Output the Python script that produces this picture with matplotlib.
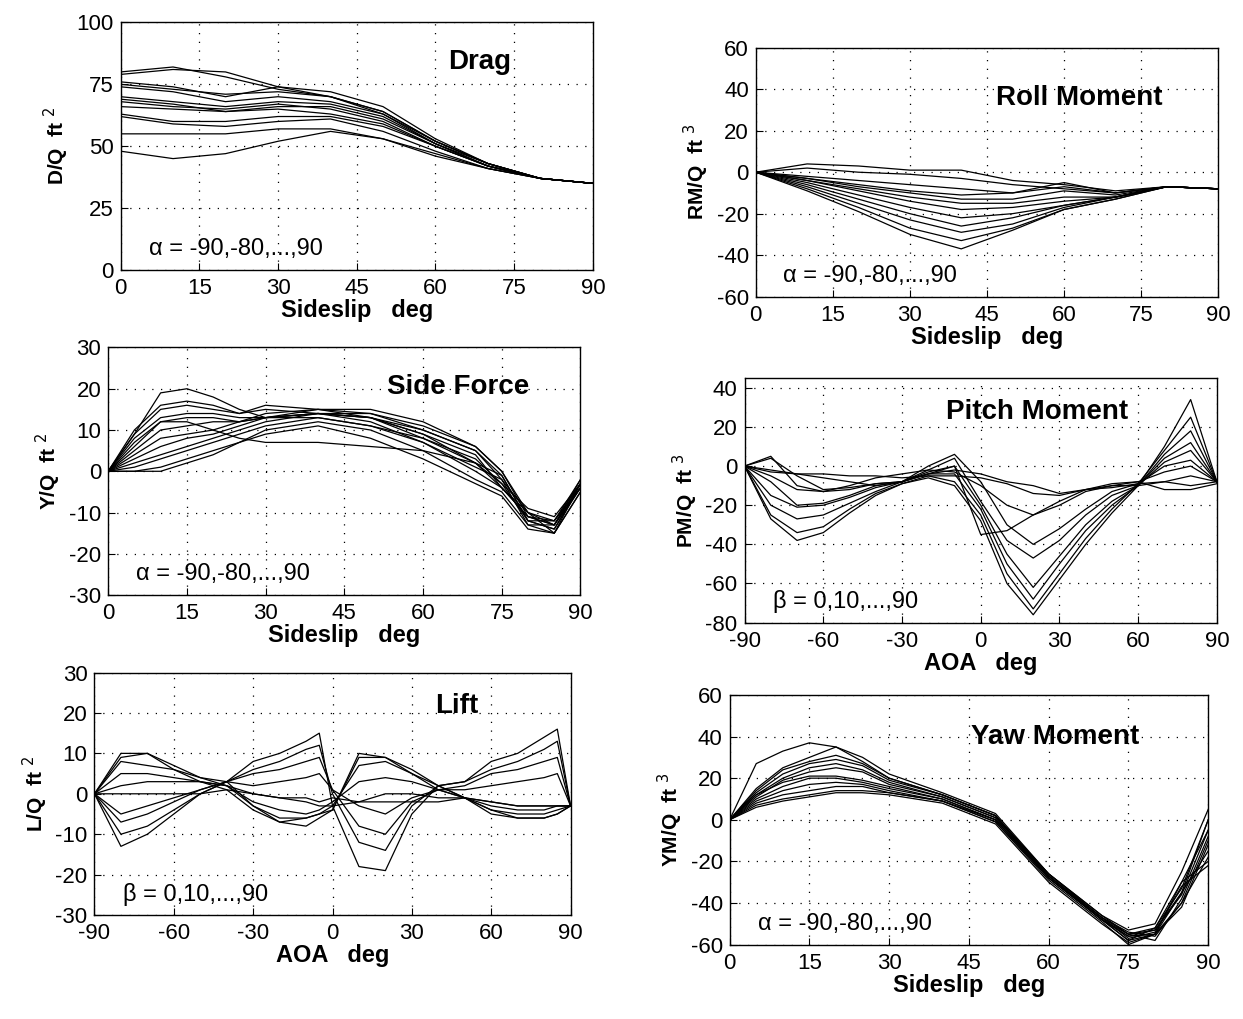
import matplotlib
matplotlib.use("Agg")
import matplotlib.pyplot as plt

plt.rcParams['font.family'] = ['Liberation Sans', 'DejaVu Sans']
plt.rcParams['axes.unicode_minus'] = False

# --- données ---
# Drag vs sideslip (alpha = -90..90)
beta_drag = [0, 10, 20, 30, 40, 50, 60, 70, 80, 90]
drag = [
    [80, 82, 78, 73, 70, 64, 52, 43, 37, 35],
    [79, 81, 80, 74, 70, 63, 51, 43, 37, 35],
    [76, 74, 70, 74, 72, 66, 53, 43, 37, 35],
    [75, 73, 71, 72, 70, 64, 52, 43, 37, 35],
    [74, 72, 68, 70, 68, 63, 52, 43, 37, 35],
    [70, 68, 66, 68, 67, 62, 51, 42, 37, 35],
    [69, 67, 64, 66, 66, 61, 51, 42, 37, 35],
    [68, 66, 65, 67, 65, 60, 50, 42, 37, 35],
    [66, 65, 64, 65, 63, 59, 50, 42, 37, 35],
    [63, 60, 60, 62, 62, 58, 50, 42, 37, 35],
    [62, 59, 58, 60, 61, 56, 48, 41, 37, 35],
    [55, 55, 55, 57, 57, 53, 46, 41, 37, 35],
    [48, 45, 47, 52, 56, 53, 47, 41, 37, 35],
]

# Roll moment vs sideslip
beta_roll = [0, 10, 20, 30, 40, 50, 60, 70, 80, 90]
roll = [
    [0, 4, 3, 1, 1, -4, -6, -9, -7, -8],
    [0, 2, 0, -1, -3, -6, -8, -10, -7, -8],
    [0, -2, -4, -6, -8, -10, -7, -10, -7, -8],
    [0, -3, -6, -9, -11, -10, -5, -10, -7, -8],
    [0, -3, -7, -10, -13, -13, -9, -11, -7, -8],
    [0, -4, -8, -12, -15, -15, -12, -12, -7, -8],
    [0, -4, -9, -14, -18, -17, -14, -12, -7, -8],
    [0, -5, -11, -17, -22, -20, -16, -12, -7, -8],
    [0, -6, -13, -20, -26, -22, -16, -12, -7, -8],
    [0, -7, -15, -23, -29, -25, -17, -12, -7, -8],
    [0, -8, -17, -27, -33, -27, -18, -13, -7, -8],
    [0, -9, -19, -30, -37, -28, -18, -13, -7, -8],
]

# Side force vs sideslip
beta_side = [0, 5, 10, 15, 20, 25, 30, 40, 50, 60, 70, 75, 80, 85, 90]
side = [
    [0, 9, 19, 20, 18, 15, 13, 13, 11, 8, 3, -3, -12, -14, -4],
    [0, 10, 16, 17, 16, 14, 16, 15, 14, 10, 5, -2, -13, -13, -3],
    [0, 9, 15, 16, 15, 14, 15, 14, 13, 9, 4, -4, -11, -12, -4],
    [0, 8, 13, 14, 14, 13, 13, 14, 14, 11, 6, 0, -10, -13, -2],
    [0, 7, 12, 13, 13, 12, 13, 14, 13, 10, 5, -1, -12, -12, -3],
    [0, 6, 12, 12, 10, 8, 7, 7, 6, 5, 2, -4, -10, -15, -5],
    [0, 5, 10, 11, 12, 12, 14, 15, 15, 12, 6, 0, -11, -13, -4],
    [0, 4, 8, 9, 10, 12, 13, 15, 13, 8, 2, -3, -9, -11, -3],
    [0, 3, 6, 8, 9, 11, 13, 14, 12, 7, 1, -2, -10, -12, -2],
    [0, 2, 4, 6, 8, 10, 12, 14, 13, 9, 2, -1, -12, -14, -3],
    [0, 1, 3, 5, 7, 9, 11, 13, 11, 7, 0, -4, -11, -13, -4],
    [0, 0, 1, 3, 5, 7, 10, 12, 10, 5, -2, -5, -13, -15, -5],
    [0, 0, 0, 2, 4, 7, 9, 11, 8, 3, -3, -6, -14, -15, -3],
]

# Pitch moment vs AOA (beta = 0..90)
aoa_pitch = [-90, -80, -70, -60, -50, -40, -30, -20, -10, 0, 10, 20, 30, 40, 50, 60, 70, 80, 90]
pitch = [
    [0, -27, -38, -34, -24, -15, -9, -6, -10, -28, -60, -76, -58, -40, -24, -10, 10, 34, -8],
    [0, -25, -34, -31, -22, -14, -9, -5, -8, -25, -55, -73, -55, -37, -22, -9, 8, 25, -8],
    [0, -20, -27, -25, -19, -13, -8, -4, -4, -22, -50, -68, -50, -33, -20, -10, 6, 18, -8],
    [0, -15, -21, -20, -16, -11, -8, -3, 0, -20, -45, -62, -46, -30, -18, -10, 4, 12, -8],
    [0, -8, -20, -19, -15, -10, -8, -2, 4, -18, -38, -47, -38, -25, -15, -10, 2, 8, -8],
    [0, -5, -12, -13, -12, -9, -8, 0, 6, -8, -30, -40, -32, -22, -13, -9, 0, 3, -8],
    [0, 4, -5, -12, -11, -9, -8, -4, 0, -35, -33, -25, -18, -12, -9, -8, -3, 0, -8],
    [0, 5, -10, -13, -10, -6, -4, -2, -3, -10, -20, -25, -20, -13, -10, -10, -8, -5, -8],
    [0, -3, -4, -4, -5, -5, -6, -5, -5, -6, -9, -14, -15, -12, -11, -9, -8, -10, -8],
    [0, -2, -4, -6, -8, -10, -8, -4, -2, -4, -8, -10, -14, -12, -10, -8, -12, -12, -9],
]

# Lift vs AOA
aoa_lift = [-90, -80, -70, -60, -50, -40, -30, -20, -10, -5, 0, 10, 20, 30, 40, 50, 60, 70, 80, 85, 90]
lift = [
    [0, -13, -10, -5, 0, 3, 8, 10, 13, 15, -3, -18, -19, -5, 2, 3, 8, 10, 14, 16, -3],
    [0, -10, -8, -4, 0, 3, 6, 8, 11, 12, 0, -12, -14, -3, 2, 3, 6, 8, 11, 13, -3],
    [0, -7, -5, -2, 1, 3, 5, 6, 8, 9, 1, -8, -10, -2, 1, 2, 5, 6, 8, 9, -3],
    [0, -5, -3, -1, 1, 3, 2, 3, 4, 5, 1, -3, -5, -1, 1, 1, 2, 3, 4, 5, -3],
    [0, 0, 0, 0, 0, 1, 0, -1, -1, -2, -1, -2, -2, -2, -2, -1, -2, -3, -3, -3, -3],
    [0, 2, 3, 3, 3, 2, 0, -1, -2, -3, -3, -2, 0, 0, -1, -1, -2, -3, -3, -3, -3],
    [0, 5, 5, 4, 3, 2, -2, -4, -5, -4, -2, 3, 4, 3, 1, -1, -3, -4, -4, -3, -3],
    [0, 8, 7, 6, 4, 3, -3, -6, -6, -5, -3, 7, 8, 5, 2, -1, -4, -5, -5, -4, -3],
    [0, 9, 10, 7, 4, 2, -3, -7, -8, -6, -4, 10, 9, 6, 2, -1, -4, -6, -6, -5, -3],
    [0, 10, 10, 6, 3, 1, -4, -7, -6, -5, -4, 9, 9, 5, 1, -1, -5, -6, -6, -5, -3],
]

# Yaw moment vs sideslip
beta_yaw = [0, 5, 10, 15, 20, 25, 30, 40, 50, 60, 70, 75, 80, 85, 90]
yaw = [
    [0, 27, 33, 37, 35, 28, 20, 12, 2, -28, -48, -58, -55, -35, 0],
    [0, 15, 25, 30, 35, 30, 22, 13, 3, -26, -46, -55, -52, -30, -5],
    [0, 14, 24, 28, 31, 27, 20, 12, 2, -27, -47, -54, -56, -40, -10],
    [0, 13, 22, 27, 29, 26, 19, 12, 2, -26, -47, -55, -53, -35, -15],
    [0, 12, 20, 25, 27, 24, 18, 11, 1, -27, -48, -56, -55, -30, -20],
    [0, 11, 19, 23, 25, 23, 17, 11, 1, -26, -46, -53, -50, -25, 5],
    [0, 12, 18, 21, 21, 19, 16, 10, 0, -28, -48, -55, -58, -38, -8],
    [0, 10, 16, 20, 20, 18, 15, 10, 0, -27, -47, -57, -54, -32, -22],
    [0, 9, 14, 17, 18, 17, 14, 9, -1, -29, -49, -60, -55, -42, -12],
    [0, 8, 12, 14, 16, 16, 13, 9, -1, -28, -48, -58, -52, -33, 0],
    [0, 6, 9, 11, 13, 13, 12, 8, -2, -30, -50, -59, -55, -40, -18],
    [0, 7, 10, 12, 14, 14, 13, 9, 0, -27, -48, -56, -53, -36, -5],
]

alpha_txt = 'α = -90,-80,...,90'
beta_txt = 'β = 0,10,...,90'


def panel(rect, x, curves, xlim, xticks, ylim, yticks, xlabel, ylabel, title, tpos, note):
    ax = fig.add_axes(rect)
    for c in curves:
        ax.plot(x, c, color='k', lw=0.9)
    ax.set_xlim(xlim)
    ax.set_ylim(ylim)
    ax.set_xticks(xticks)
    ax.set_yticks(yticks)
    ax.grid(True, color='k', linestyle=(0, (1, 6)), linewidth=0.9)
    ax.tick_params(direction='in', length=5, labelsize=16, width=0.8)
    ax.tick_params(axis='x', pad=6)
    ax.tick_params(axis='y', pad=5)
    ax.set_xlabel(xlabel, fontsize=17, fontweight='bold', labelpad=0)
    ax.set_ylabel(ylabel, fontsize=15, fontweight='bold')
    for s in ax.spines.values():
        s.set_linewidth(1.0)
    ax.text(tpos[0], tpos[1], title, transform=ax.transAxes, ha='center',
            va='center', fontsize=20, fontweight='bold')
    ax.text(0.06, 0.06, note, transform=ax.transAxes, ha='left', fontsize=17)
    return ax


fig = plt.figure(figsize=(12.43, 10.19), dpi=100)

sx = [0, 15, 30, 45, 60, 75, 90]
ax_ = [-90, -60, -30, 0, 30, 60, 90]

panel([0.097, 0.735, 0.380, 0.243], beta_drag, drag, (0, 90), sx, (0, 100),
      [0, 25, 50, 75, 100], 'Sideslip   deg', r'D/Q  ft $^{2}$', 'Drag', (0.76, 0.84), alpha_txt)
panel([0.608, 0.709, 0.372, 0.244], beta_roll, roll, (0, 90), sx, (-60, 60),
      range(-60, 61, 20), 'Sideslip   deg', r'RM/Q  ft $^{3}$', 'Roll Moment', (0.70, 0.80), alpha_txt)
panel([0.087, 0.416, 0.380, 0.243], beta_side, side, (0, 90), sx, (-30, 30),
      range(-30, 31, 10), 'Sideslip   deg', r'Y/Q  ft $^{2}$', 'Side Force', (0.74, 0.84), alpha_txt)
panel([0.599, 0.389, 0.380, 0.240], aoa_pitch, pitch, (-90, 90), ax_, (-80, 45),
      range(-80, 41, 20), 'AOA   deg', r'PM/Q  ft $^{3}$', 'Pitch Moment', (0.62, 0.86), beta_txt)
panel([0.076, 0.102, 0.383, 0.238], aoa_lift, lift, (-90, 90), ax_, (-30, 30),
      range(-30, 31, 10), 'AOA   deg', r'L/Q  ft $^{2}$', 'Lift', (0.76, 0.86), beta_txt)
panel([0.587, 0.073, 0.385, 0.245], beta_yaw, yaw, (0, 90), sx, (-60, 60),
      range(-60, 61, 20), 'Sideslip   deg', r'YM/Q  ft $^{3}$', 'Yaw Moment', (0.68, 0.83), alpha_txt)

fig.savefig('out.png', dpi=100)
